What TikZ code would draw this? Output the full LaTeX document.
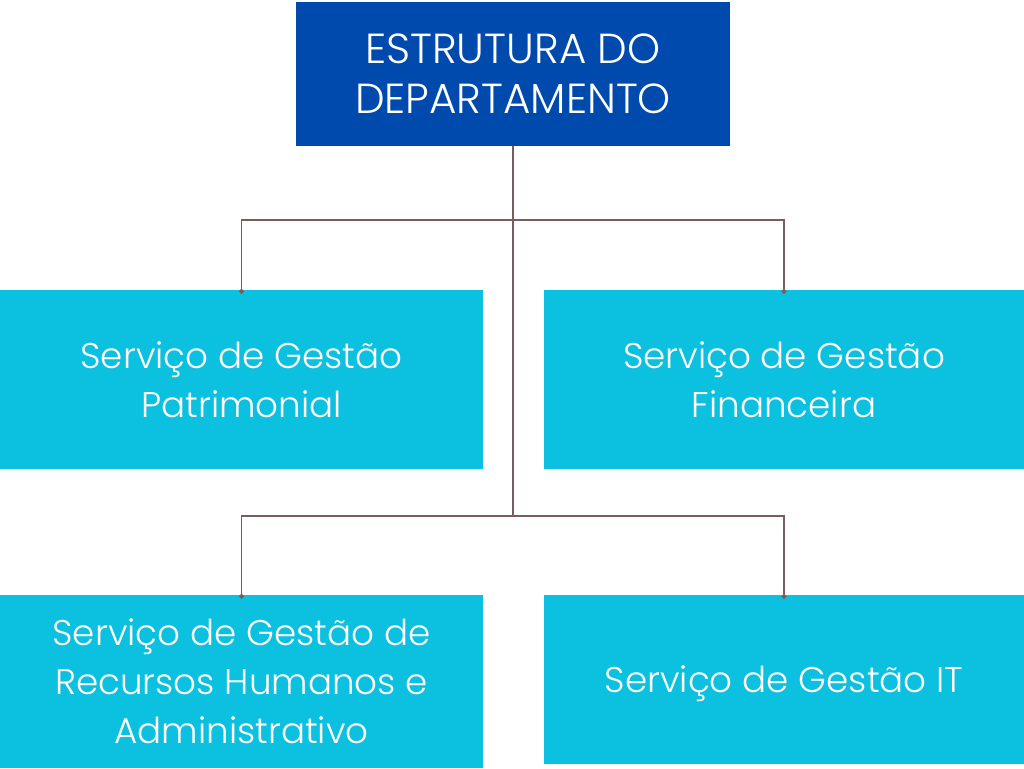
\documentclass[tikz,border=0pt]{standalone}
\usepackage{fontspec}
\setmainfont{Poppins}[UprightFont=* Light]
\usetikzlibrary{arrows.meta,calc}
\definecolor{topblue}{HTML}{004AAD}
\definecolor{boxcyan}{HTML}{0CC0DF}
\definecolor{linebrown}{HTML}{7A5C58}
\begin{document}
\begin{tikzpicture}[x=1pt,y=1pt,
  topbox/.style={fill=topblue,text=white,inner sep=0pt,align=center,font=\fontsize{42}{50}\selectfont},
  unitbox/.style={fill=boxcyan,text=white,inner sep=0pt,align=center,font=\fontsize{35.7}{49}\selectfont},
  conn/.style={draw=linebrown,line width=1.3pt},
  dropconn/.style={conn,-{Circle[length=5pt]}}]
\useasboundingbox (0,0) rectangle (1024,768);
\node[topbox,minimum width=434,minimum height=144] (top) at (513,694) {ESTRUTURA DO\\DEPARTAMENTO};
\node[unitbox,minimum width=483,minimum height=179] (pat) at (241.5,388.5) {Serviço de Gestão\\Patrimonial};
\node[unitbox,minimum width=480,minimum height=179] (fin) at (784,388.5) {Serviço de Gestão\\Financeira};
\node[unitbox,minimum width=483,minimum height=173] (rh) at (241.5,86.5) {Serviço de Gestão de\\Recursos Humanos e\\Administrativo};
\node[unitbox,minimum width=480,minimum height=169,text height=36pt,text depth=10pt] (it) at (784,88.5) {Serviço de Gestão IT};
\coordinate (j1) at (513,548);
\coordinate (j2) at (513,252);
\draw[conn] (top.south) -- (j2);
\draw[dropconn] (j1) -| ([yshift=-4pt]pat.north);
\draw[dropconn] (j1) -| ([yshift=-4pt]fin.north);
\draw[dropconn] (j2) -| ([yshift=-4pt]rh.north);
\draw[dropconn] (j2) -| ([yshift=-4pt]it.north);
\end{tikzpicture}
\end{document}
